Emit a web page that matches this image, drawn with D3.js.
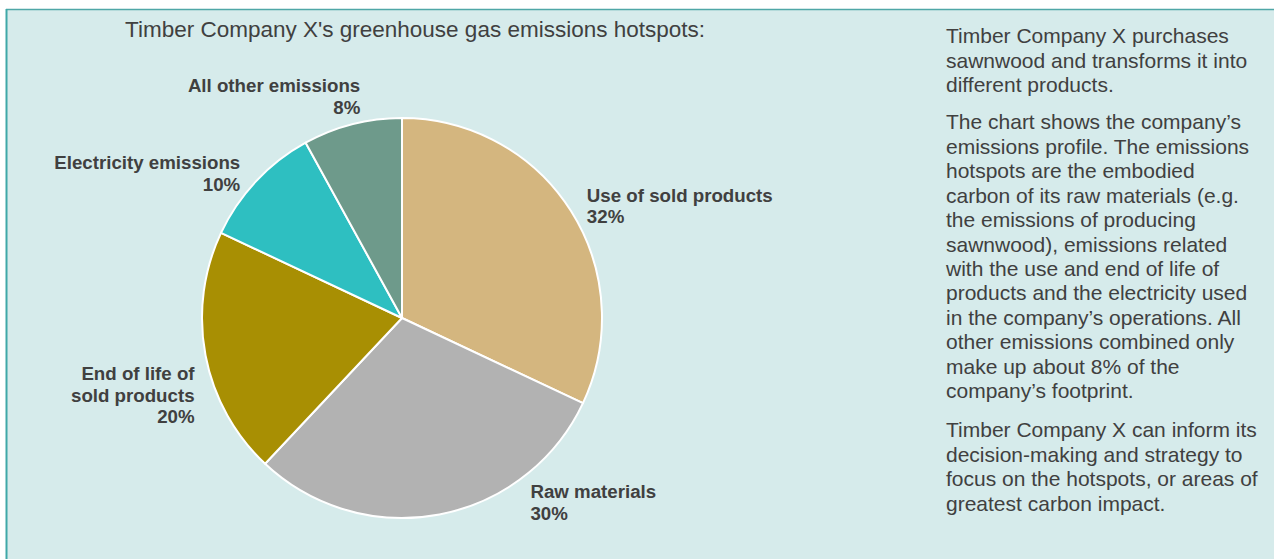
<!DOCTYPE html>
<html>
<head>
<meta charset="utf-8">
<script src="https://cdn.jsdelivr.net/npm/d3@7"></script>
<style>
  html, body { margin: 0; padding: 0; background: #ffffff; }
  svg { display: block; }
  text { font-family: "Liberation Sans", Arial, sans-serif; }
</style>
</head>
<body>
<svg id="chart" width="1274" height="559"></svg>
<script>
// ---- data ----
const title = "Timber Company X's greenhouse gas emissions hotspots:";
const categories = ["Use of sold products", "Raw materials", "End of life of sold products", "Electricity emissions", "All other emissions"];
const labelLines = [["Use of sold products"], ["Raw materials"], ["End of life of", "sold products"], ["Electricity emissions"], ["All other emissions"]];
const values = [32, 30, 20, 10, 8];
const colors = ["#d4b67f", "#b2b2b2", "#a88f03", "#2ebfc1", "#6e9a8b"];
const paragraphs = [
  ["Timber Company X purchases", "sawnwood and transforms it into", "different products."],
  ["The chart shows the company\u2019s", "emissions profile. The emissions", "hotspots are the embodied", "carbon of its raw materials (e.g.", "the emissions of producing", "sawnwood), emissions related", "with the use and end of life of", "products and the electricity used", "in the company\u2019s operations. All", "other emissions combined only", "make up about 8% of the", "company\u2019s footprint."],
  ["Timber Company X can inform its", "decision-making and strategy to", "focus on the hotspots, or areas of", "greatest carbon impact."]
];

// ---- layout ----
const W = 1274, H = 559;
const cx = 402, cy = 318, R = 200;
const textColor = "#404040";
// label placement: nudge from slice's outer mid point, and anchor
const labelNudge = [[16, -9, "start"], [91, -16, "start"], [-11, 25, "end"], [-16, -12, "end"], [8, -32, "end"]];

const svg = d3.select("#chart");

// panel
svg.append("rect").attr("x", 6).attr("y", 9).attr("width", W - 6).attr("height", H - 9).attr("fill", "#d6ebeb");
svg.append("line").attr("x1", 6).attr("y1", 9.5).attr("x2", W).attr("y2", 9.5).attr("stroke", "#4fa7a7").attr("stroke-width", 1.5);
svg.append("line").attr("x1", 6.5).attr("y1", 9).attr("x2", 6.5).attr("y2", H).attr("stroke", "#3fa8a8").attr("stroke-width", 2);

// title
svg.append("text").attr("x", 125).attr("y", 37).attr("font-size", 22.5).attr("fill", textColor).text(title);

// pie
const color = d3.scaleOrdinal().domain(categories).range(colors);
const pie = d3.pie().sort(null).value(d => d.value);
const data = categories.map((c, i) => ({ name: c, value: values[i], lines: labelLines[i], nudge: labelNudge[i] }));
const arcs = pie(data);
const arc = d3.arc().innerRadius(0).outerRadius(R);
const edgeArc = d3.arc().innerRadius(R).outerRadius(R);

const g = svg.append("g").attr("transform", `translate(${cx},${cy})`);
g.selectAll("path").data(arcs).join("path")
  .attr("d", arc)
  .attr("fill", d => color(d.data.name))
  .attr("stroke", "#ffffff")
  .attr("stroke-width", 2)
  .attr("stroke-linejoin", "round");

// labels
const lineH = 21.5;
g.selectAll("text.lbl").data(arcs).join("text")
  .attr("class", "lbl")
  .attr("font-size", 18.7)
  .attr("font-weight", "bold")
  .attr("fill", textColor)
  .attr("text-anchor", d => d.data.nudge[2])
  .each(function(d) {
    const [px, py] = edgeArc.centroid(d);
    const x = px + d.data.nudge[0], y = py + d.data.nudge[1];
    const t = d3.select(this);
    const lines = d.data.lines.concat([d.data.value + "%"]);
    lines.forEach((ln, i) => {
      t.append("tspan").attr("x", x).attr("y", y + i * lineH).text(ln);
    });
  });

// right text
const tx = 946;
const paraStarts = [43.3, 129.3, 437.3];
const bodyLineH = 24.45;
const body = svg.append("text").attr("font-size", 21).attr("fill", textColor);
paragraphs.forEach((p, pi) => {
  p.forEach((ln, li) => {
    body.append("tspan").attr("x", tx).attr("y", paraStarts[pi] + li * bodyLineH).text(ln);
  });
});
</script>
</body>
</html>
